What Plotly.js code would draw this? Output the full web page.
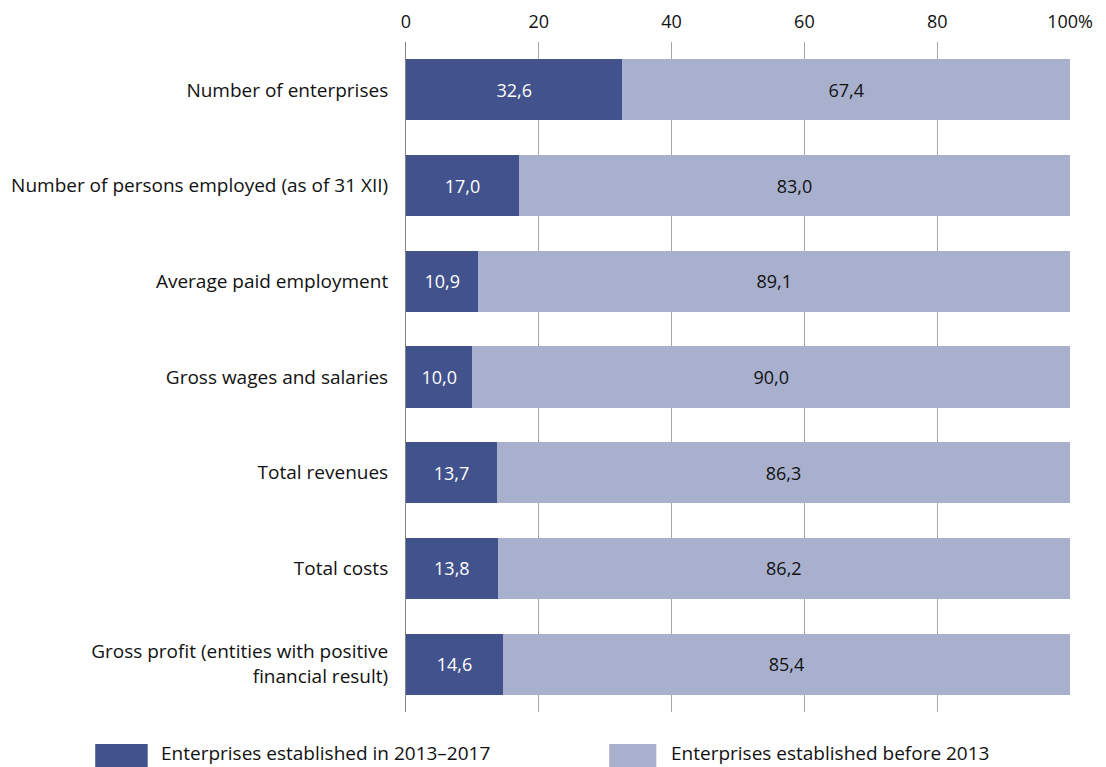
<!DOCTYPE html>
<html>
<head>
<meta charset="utf-8">
<script src="https://cdn.plot.ly/plotly-3.0.1.min.js"></script>
<style>html,body{margin:0;padding:0;background:#fff;}#chart{width:1106px;height:767px;}</style>
</head>
<body>
<div id="chart"></div>
<script>
const categories = [
  "Number of enterprises",
  "Number of persons employed (as of 31 XII)",
  "Average paid employment",
  "Gross wages and salaries",
  "Total revenues",
  "Total costs",
  "Gross profit (entities with positive<br>financial result)"
];
const newEnterprises = [32.6, 17.0, 10.9, 10.0, 13.7, 13.8, 14.6];
const oldEnterprises = [67.4, 83.0, 89.1, 90.0, 86.3, 86.2, 85.4];
const seriesNames = ["Enterprises established in 2013–2017", "Enterprises established before 2013"];
const tickValues = [0, 20, 40, 60, 80, 100];
const tickLabels = ["0", "20", "40", "60", "80", "100%"];

const darkColor = "#42528c";
const lightColor = "#a8b0cd";
const fontFamily = "'Open Sans', 'Noto Sans', sans-serif";

const traces = [
  {
    type: "bar", orientation: "h", name: seriesNames[0],
    y: categories, x: newEnterprises,
    marker: {color: darkColor},
    texttemplate: "%{x:.1f}", textposition: "inside", insidetextanchor: "middle",
    textfont: {color: "#ffffff", size: 18, family: fontFamily},
    hoverinfo: "skip"
  },
  {
    type: "bar", orientation: "h", name: seriesNames[1],
    y: categories, x: oldEnterprises,
    marker: {color: lightColor},
    texttemplate: "%{x:.1f}", textposition: "inside", insidetextanchor: "middle",
    textfont: {color: "#111111", size: 18, family: fontFamily},
    hoverinfo: "skip"
  }
];

// legend swatches in paper coordinates
const swatches = [
  {x0: -0.468, x1: -0.389, tx: -0.372, color: darkColor},
  {x0: 0.306, x1: 0.377, tx: 0.396, color: lightColor}
];

const layout = {
  width: 1106, height: 767,
  barmode: "stack",
  bargap: 0.36,
  separators: ", ",
  showlegend: false,
  paper_bgcolor: "#ffffff",
  plot_bgcolor: "#ffffff",
  margin: {l: 406, r: 36, t: 42, b: 55},
  font: {family: fontFamily, size: 18, color: "#111111"},
  xaxis: {
    side: "top",
    range: [0, 100],
    tickvals: tickValues,
    ticktext: tickLabels,
    showgrid: true,
    gridcolor: "#a6a6a6",
    gridwidth: 1,
    zeroline: false,
    showline: false,
    ticks: "",
    ticklabelstandoff: 9,
    tickfont: {size: 18, family: fontFamily, color: "#111111"},
    fixedrange: true
  },
  yaxis: {
    autorange: "reversed",
    showgrid: false,
    zeroline: false,
    showline: true,
    linecolor: "#808080",
    linewidth: 1,
    ticks: "",
    ticklabelstandoff: 13,
    tickfont: {size: 19, family: fontFamily, color: "#111111"},
    fixedrange: true
  },
  shapes: swatches.map(s => ({
    type: "rect", xref: "paper", yref: "paper",
    x0: s.x0, x1: s.x1, y0: -0.0478, y1: -0.09,
    fillcolor: s.color, line: {width: 0}
  })),
  annotations: swatches.map((s, i) => ({
    xref: "paper", yref: "paper", x: s.tx, y: -0.061,
    xanchor: "left", yanchor: "middle", showarrow: false,
    text: seriesNames[i],
    font: {size: 19, family: fontFamily, color: "#111111"}
  }))
};

Plotly.newPlot("chart", traces, layout, {displayModeBar: false, staticPlot: true});
</script>
</body>
</html>
